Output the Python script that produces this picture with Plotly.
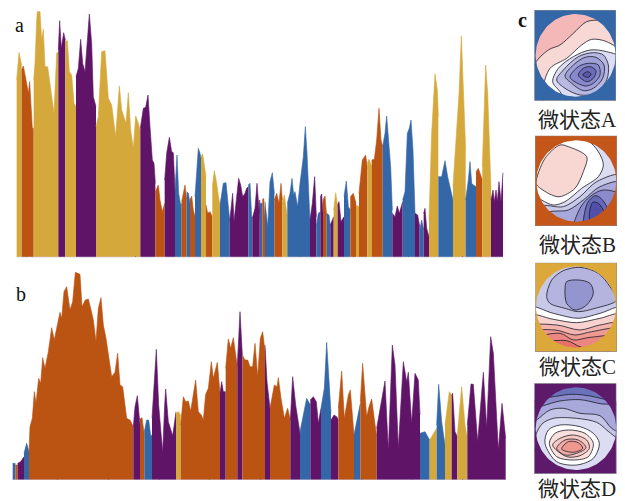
import numpy as np
import plotly.graph_objects as go

W, H = 625, 501
COL = {"A": "#3367a8", "B": "#bb5312", "C": "#d5a83b", "D": "#5f1468"}
Z = 3  # data units: 3 per picture pixel
OFF = 765

a_left = [
 ("C",[(50,240),(57,158),(65,195)]),
 ("B",[(65,210),(70,198),(78,240),(85,280),(89,245),(93,300),(97,385),(101,385)]),
 ("C",[(101,240),(105,190),(110,60),(112,35),(120,35),(125,120),(130,88),(135,200),(143,200),(150,250),(162,340),(170,160),(175,155)]),
 ("D",[(175,150),(179,62),(184,145),(191,98),(196,120)]),
 ("C",[(196,125),(202,122),(208,215),(215,225),(222,310),(228,320)]),
 ("D",[(228,230),(235,205),(242,118),(248,190),(255,215),(262,130),(268,42),(275,130),(280,290),(288,320)]),
 ("C",[(288,380),(295,350),(305,155),(315,152),(325,295),(335,315),(347,410),(358,258),(365,330),(378,370),(385,278),(392,390),(400,445),(407,348),(415,370),(421,395)]),
 ("D",[(421,385),(430,325),(437,322),(444,285),(450,380),(457,480),(462,490),(466,550)]),
 ("B",[(466,575),(475,555),(480,600),(487,635),(494,610)]),
 ("D",[(494,540),(500,460),(508,412),(515,455),(520,458),(525,570)]),
 ("A",[(525,570),(531,465),(536,580),(542,615),(545,610)]),
 ("B",[(545,605),(555,555),(560,600)]),
 ("A",[(560,575),(565,580),(570,610)]),
 ("B",[(570,600),(575,588),(580,630),(585,650)]),
 ("A",[(585,590),(595,445),(600,460),(603,475)]),
 ("C",[(603,470),(608,462),(618,530)]),
 ("B",[(618,615),(623,640),(630,635),(637,650)]),
 ("C",[(637,560),(643,512),(650,550),(660,620)]),
 ("A",[(660,615),(670,550),(678,548),(684,610),(689,660)]),
 ("D",[(689,665),(698,580),(702,665),(708,600),(716,535),(722,555),(728,590),(735,580),(740,565),(745,560)]),
 ("A",[(745,555),(750,550),(755,650),(757,652)]),
 ("D",[(757,655),(765,625),(771,550),(778,640)]),
]
a_right = [
 ("D",[(13,640),(14,600),(15,660)]),
 ("A",[(15,610),(18,610),(22,610)]),
 ("B",[(22,600),(26,595),(30,650)]),
 ("A",[(30,605),(38,680),(45,545),(52,518),(58,580)]),
 ("B",[(58,600),(65,580),(72,610),(78,550),(82,600)]),
 ("C",[(82,610),(88,585),(97,650)]),
 ("A",[(97,610),(105,580),(111,535),(116,585),(120,575),(128,620),(135,550),(145,470),(151,380),(156,460),(165,665)]),
 ("D",[(165,660),(172,610),(179,530),(184,650)]),
 ("A",[(184,680),(190,640),(196,635)]),
 ("D",[(196,590),(200,582),(204,640)]),
 ("B",[(204,600),(210,588),(215,650)]),
 ("A",[(215,640),(222,645),(226,680)]),
 ("D",[(226,675),(232,660),(236,650)]),
 ("C",[(236,630),(242,578),(248,620)]),
 ("D",[(248,615),(252,605),(258,665),(267,650)]),
 ("A",[(267,590),(274,543),(280,620),(286,630)]),
 ("B",[(286,590),(295,580),(303,610)]),
 ("C",[(303,615),(312,620)]),
 ("B",[(312,580),(322,480),(332,465),(337,505)]),
 ("C",[(337,490),(342,478),(350,500)]),
 ("B",[(350,480),(358,478),(365,420),(372,325),(378,420),(383,440)]),
 ("A",[(383,440),(390,400),(395,348),(402,440),(407,500),(412,630)]),
 ("D",[(412,640),(420,650),(427,618),(433,640),(443,605)]),
 ("A",[(443,600),(450,575),(457,400),(463,385),(468,360),(474,450),(480,640)]),
 ("D",[(480,640),(488,645),(494,680)]),
 ("A",[(494,690),(500,660),(506,690)]),
 ("D",[(506,640),(510,625),(515,685),(522,710)]),
 ("C",[(522,660),(530,400),(540,222),(547,270),(550,350)]),
 ("A",[(550,530),(560,530),(570,482),(578,530),(594,600)]),
 ("C",[(594,560),(602,430),(612,280),(619,108),(625,280),(632,450)]),
 ("A",[(632,600),(640,540),(645,485),(650,550),(655,555),(663,560)]),
 ("B",[(663,515),(670,505),(682,540)]),
 ("C",[(682,500),(688,350),(692,195),(698,280),(708,570)]),
 ("D",[(708,600),(714,570),(718,605),(723,570),(727,605),(732,545),(738,605),(744,518)]),
]
b_left = [
 ("A",[(38,595),(46,595)]),
 ("B",[(46,600),(53,600)]),
 ("D",[(53,595),(62,590),(72,575)]),
 ("A",[(72,565),(80,535),(87,560)]),
 ("B",[(87,560),(90,485),(97,460),(103,380),(108,415),(116,340),(122,355),(128,278),(135,310),(145,260),(155,188),(163,225),(170,190),(180,142),(185,160),(192,80),(200,65),(210,135),(218,110),(226,22),(240,28),(246,125),(256,105),(265,102),(272,130),(280,165),(288,230),(295,130),(303,98),(310,180),(318,220),(327,290),(335,335),(345,322),(353,265),(360,360),(368,365),(380,460),(390,465),(400,485)]),
 ("D",[(400,485),(405,425),(412,392),(420,480)]),
 ("B",[(420,462),(426,458),(433,510)]),
 ("A",[(433,500),(440,465),(446,465),(452,512),(456,510)]),
 ("D",[(456,460),(462,350),(469,253),(476,420),(488,562),(494,420),(497,372),(505,470),(518,512),(528,440)]),
 ("C",[(528,445),(535,440),(542,450)]),
 ("B",[(542,480),(550,395),(557,410),(565,408),(572,438),(580,385),(587,345),(595,440),(604,450),(610,465),(617,388),(625,370),(634,290),(640,340),(652,292),(660,385)]),
 ("D",[(660,385),(665,350),(670,380),(677,380)]),
 ("B",[(677,310),(685,222),(692,250),(700,218),(712,305)]),
 ("D",[(712,300),(720,140),(727,270)]),
 ("B",[(727,270),(735,285),(743,285),(750,305),(758,305),(765,235)]),
]
b_right = [
 ("B",[(0,235),(8,335),(16,220),(23,200),(30,260)]),
 ("D",[(30,240),(36,350),(45,430)]),
 ("B",[(45,430),(58,360),(66,365),(70,338),(78,400),(88,460),(98,430),(106,465)]),
 ("D",[(106,465),(113,335),(122,420),(135,505)]),
 ("A",[(135,500),(145,445),(155,400),(166,420)]),
 ("D",[(166,405),(175,395),(184,410),(190,475),(198,430)]),
 ("A",[(198,430),(208,370),(215,232),(222,350),(228,445)]),
 ("D",[(228,465),(237,450),(245,455),(250,465)]),
 ("B",[(250,430),(260,318),(268,460),(280,390),(286,375),(297,510)]),
 ("A",[(297,510),(307,455),(316,415)]),
 ("B",[(316,410),(323,295),(335,455),(342,425),(350,402),(365,515)]),
 ("D",[(365,490),(378,410),(390,348),(400,555),(412,240),(420,300),(430,550),(445,290),(455,350),(460,322),(470,475),(480,325),(490,345),(495,450)]),
 ("A",[(495,505),(510,500),(524,525)]),
 ("C",[(524,525),(540,495),(545,490)]),
 ("A",[(545,480),(551,358),(560,470),(570,540)]),
 ("C",[(570,480),(583,380),(590,390)]),
 ("D",[(590,392),(593,385),(600,500),(607,515)]),
 ("C",[(607,510),(620,365),(630,480),(637,520)]),
 ("D",[(637,480),(648,357),(655,358),(668,530),(685,322),(695,488),(707,215),(715,265),(730,555),(741,415),(752,520)]),
]
a_base, b_base = 772, 645
a_ticks = [78, 240, 405, 897, 1060, 1225, 1387]
b_ticks = [173, 325, 478, 629, 781, 1083, 1235, 1387]

topo_A = [
 ("#f8d8d4",[(70,200),(115,150),(150,135),(190,100),(230,65),(280,60),(340,60),(340,330),(70,330)]),
 ("#ffffff",[(100,265),(120,205),(170,175),(215,135),(245,118),(290,125),(340,165),(340,330),(110,330)]),
 ("#dcdcf2",[(128,245),(145,205),(190,170),(240,150),(290,155),(340,178),(340,330),(190,330),(150,275)]),
 ("#b8b8e2",[(140,240),(160,210),(205,170),(250,158),(280,165),(295,195),(290,240),(255,280),(210,285),(165,265)]),
 ("#a0a0d8",[(165,228),(190,195),(225,172),(258,172),(282,195),(278,235),(250,265),(220,272),(185,250)]),
 ("#8888cc",[(180,232),(205,200),(235,190),(265,195),(270,225),(250,250),(225,258)]),
 ("#6c6cb8",[(205,225),(220,205),(240,200),(258,212),(250,235),(230,245)]),
 ("#5858a8",[(218,225),(232,215),(243,222),(235,232)]),
]
topo_B = [
 ("#ffffff",[(50,130),(110,60),(160,35),(230,45),(265,80),(280,120),(265,155),(215,190),(165,230),(130,240),(95,225),(50,190)]),
 ("#f8d6d2",[(78,175),(105,100),(150,60),(175,65),(230,95),(220,140),(195,190),(150,215),(125,210),(85,185)]),
 ("#c8c8e8",[(90,245),(160,245),(210,215),(260,170),(340,150),(340,330),(90,330)]),
 ("#a8a8da",[(110,265),(175,255),(220,225),(270,185),(340,172),(340,330),(110,330)]),
 ("#8a8acc",[(190,330),(210,250),(240,215),(280,195),(340,215),(340,330)]),
 ("#6868b8",[(225,330),(232,235),(258,212),(285,235),(310,330)]),
 ("#5050a8",[(240,285),(248,232),(265,235),(282,262),(272,285)]),
]
topo_C = [
 ("#b4b4de",[(110,140),(125,90),(160,62),(210,52),(265,70),(300,110),(320,150),(255,175),(205,185),(165,175),(120,160)]),
 ("#9494ce",[(165,120),(170,95),(205,90),(240,100),(250,130),(230,165),(195,180),(170,160)]),
 ("#ffffff",[(50,170),(130,190),(205,205),(270,190),(340,172),(340,330),(50,330)]),
 ("#f8d2ce",[(50,195),(130,208),(200,218),(270,205),(340,192),(340,330),(50,330)]),
 ("#f4b4ae",[(50,232),(140,225),(210,240),(270,225),(340,220),(340,330),(50,330)]),
 ("#f09a94",[(50,250),(135,240),(195,255),(245,245),(340,238),(340,330),(50,330)]),
 ("#ec8680",[(70,270),(150,250),(190,270),(240,262),(340,262),(340,330),(70,330)]),
 ("#e87068",[(100,280),(170,272),(215,292),(300,300),(200,330)]),
]
topo_D = [
 ("#8c8ccc",[(30,100),(150,62),(200,58),(280,72),(350,100),(350,330),(30,330)]),
 ("#a8a8da",[(40,110),(100,92),(150,78),(210,74),(270,86),(350,100),(350,330),(40,330)]),
 ("#c4c4e6",[(40,165),(80,135),(120,105),(160,100),(210,115),(270,122),(305,160),(350,190),(350,330),(40,330)]),
 ("#dcdcf2",[(70,210),(95,148),(130,130),(200,130),(260,142),(290,165),(340,215),(340,330),(110,330),(90,260)]),
 ("#ffffff",[(105,205),(115,165),(150,150),(210,155),(250,175),(268,205),(250,250),(200,270),(140,260)]),
 ("#fae0dc",[(118,205),(135,175),(175,165),(225,175),(250,205),(235,245),(190,255),(140,245)]),
 ("#f6c8c4",[(128,210),(150,190),(190,180),(230,195),(238,220),(210,242),(170,245)]),
 ("#f2aca6",[(140,220),(165,195),(205,195),(228,218),(200,235),(165,240)]),
 ("#ee9890",[(155,222),(175,200),(205,203),(218,220),(190,232)]),
]
maps = [
 ("微状态A","A","#f5b8b8",topo_A,(73,318,30,302,0),(197,166,120,124),120),
 ("微状态B","B","#dcdcf2",topo_B,(75,321,32,303,125),(199,168,120,122),245),
 ("微状态C","C","#c8c8e8",topo_C,(76,321,38,305,250),(198,171,120,122),367),
 ("微状态D","D","#6a72bc",topo_D,(73,319,25,296,375),(198,161,121,124),489),
]
map_colors = {"微状态A":"#3367a8","微状态B":"#c5561a","微状态C":"#dca83a","微状态D":"#5e1a6a"}

fig = go.Figure()

def add_wave(left, right, xa, ya):
    for group, shift in ((left, 0), (right, OFF)):
        for state, pts in group:
            xs = [p[0] + shift for p in pts]
            base = a_base if ya == "y" else b_base
            ys = [base - p[1] for p in pts]
            fig.add_trace(go.Scatter(x=xs, y=ys, mode="lines", fill="tozeroy", fillcolor=COL[state],
                                     line=dict(width=0.6, color=COL[state]), xaxis=xa, yaxis=ya,
                                     hoverinfo="skip", showlegend=False))

add_wave(a_left, a_right, "x", "y")
add_wave(b_left, b_right, "x2", "y2")

layout = dict(
    width=W, height=H, margin=dict(l=0, r=0, t=0, b=0), paper_bgcolor="white", plot_bgcolor="white",
    showlegend=False, autosize=False,
)
xcommon = dict(range=[0, W*Z], showgrid=False, zeroline=False, showticklabels=False, ticks="inside",
               ticklen=1.5, tickwidth=1, tickcolor="rgba(90,70,90,0.5)", tickmode="array", showline=False)
ycommon = dict(showgrid=False, zeroline=False, showticklabels=False, ticks="", showline=False)
layout["xaxis"] = dict(xcommon, tickvals=a_ticks, domain=[0, 1], anchor="y")
layout["yaxis"] = dict(ycommon, range=[0, a_base], domain=[1-a_base/Z/H, 1], anchor="x")
layout["xaxis2"] = dict(xcommon, tickvals=b_ticks, domain=[0, 1], anchor="y2")
layout["yaxis2"] = dict(ycommon, range=[0, b_base], domain=[1-(265+b_base/Z)/H, 1-265/H], anchor="x2")

for xa, ya, x0, x1 in (("x", "y", 50, OFF+745), ("x2", "y2", 38, OFF+752)):
    fig.add_trace(go.Scatter(x=[x0, x1], y=[0, 0], mode="lines", line=dict(color="#cdc6dc", width=1.2),
                             xaxis=xa, yaxis=ya, hoverinfo="skip", showlegend=False, cliponaxis=False))

t = np.linspace(0, 2*np.pi, 121)
for i, (label, st, base_col, layers, (x0, x1, yt, yb, yo), (cx, cy, rx, ry), ly) in enumerate(maps):
    n = i + 3
    xa, ya = f"x{n}", f"y{n}"
    layout[f"xaxis{n}"] = dict(range=[x0, x1], domain=[(510+x0/Z)/W, (510+x1/Z)/W], anchor=ya, visible=False)
    layout[f"yaxis{n}"] = dict(range=[yb, yt], domain=[1-(yo+yb/Z)/H, 1-(yo+yt/Z)/H], anchor=xa, visible=False)
    fig.add_trace(go.Scatter(x=cx+rx*1.03*np.cos(t), y=cy+ry*1.03*np.sin(t), mode="lines", fill="toself", fillcolor=base_col,
                             line=dict(width=0), xaxis=xa, yaxis=ya, hoverinfo="skip", showlegend=False))
    for col, pts in layers:
        xs = [p[0] for p in pts] + [pts[0][0]]
        ys = [p[1] for p in pts] + [pts[0][1]]
        fig.add_trace(go.Scatter(x=xs, y=ys, mode="lines", fill="toself", fillcolor=col,
                                 line=dict(color="#1c1c28", width=0.8, shape="spline", smoothing=0.9),
                                 xaxis=xa, yaxis=ya, hoverinfo="skip", showlegend=False))
    hx = list(cx + rx*np.cos(t)); hy = list(cy + ry*np.sin(t))
    fx = [x0, x0, x1, x1, x0, None] + hx
    fy = [yt, yb, yb, yt, yt, None] + hy
    fig.add_trace(go.Scatter(x=fx, y=fy, mode="lines", fill="toself", fillcolor=map_colors[label],
                             line=dict(width=0), xaxis=xa, yaxis=ya, hoverinfo="skip", showlegend=False))
    fig.add_trace(go.Scatter(x=[x0, x0, x1, x1, x0], y=[yt, yb, yb, yt, yt], mode="lines",
                             line=dict(width=1, color="#8a8a8a"), xaxis=xa, yaxis=ya,
                             hoverinfo="skip", showlegend=False))

annos = []
serif = "Liberation Serif, Noto Sans CJK SC"
for txt, px, py, bold in (("a", 19, 25, False), ("b", 21, 294, False), ("c", 522, 20, True)):
    annos.append(dict(x=px/W, y=1-py/H, xref="paper", yref="paper", text=f"<b>{txt}</b>" if bold else txt,
                      showarrow=False, font=dict(family=serif, size=20, color="#111"), xanchor="center", yanchor="middle"))
for label, st, _, _, _, _, ly in maps:
    annos.append(dict(x=577/W, y=1-ly/H, xref="paper", yref="paper", text=label, showarrow=False,
                      font=dict(family=serif, size=21, color="#222"), xanchor="center", yanchor="middle"))
layout["annotations"] = annos
fig.update_layout(**layout)
fig.write_html("out.html", config=dict(displayModeBar=False),
               post_script="document.body.style.margin='0';document.documentElement.style.overflow='hidden';window.dispatchEvent(new Event('resize'));")
